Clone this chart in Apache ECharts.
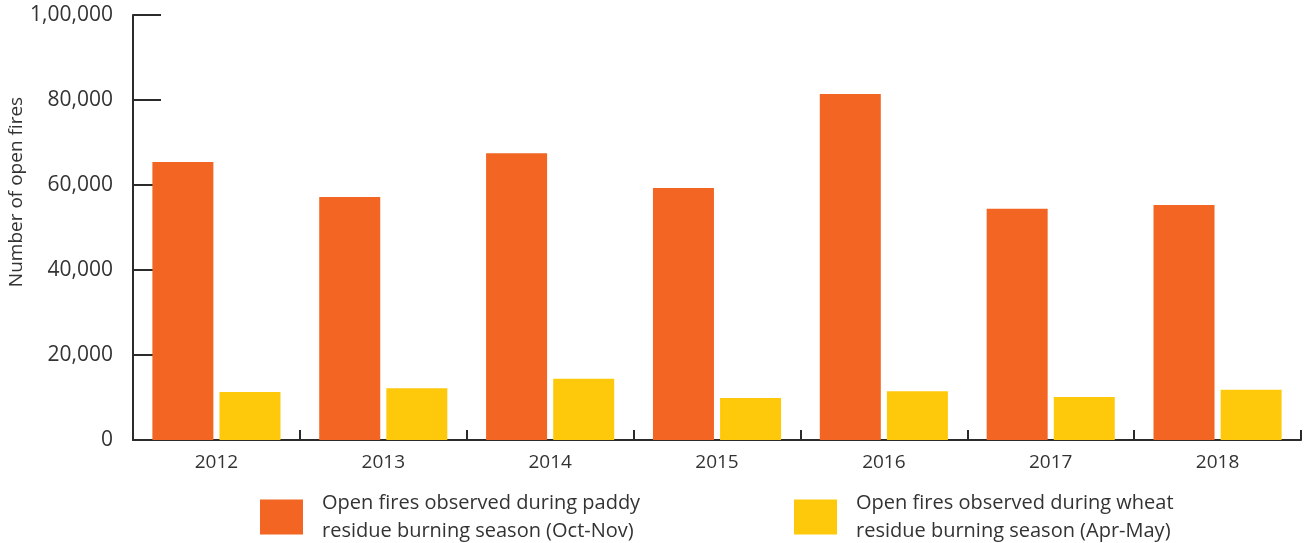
<!DOCTYPE html>
<html>
<head>
<meta charset="utf-8">
<script src="https://cdn.jsdelivr.net/npm/echarts@6/dist/echarts.min.js"></script>
<style>
  html, body { margin: 0; padding: 0; background: #fff; }
  #chart { width: 1307px; height: 543px; }
</style>
</head>
<body>
<div id="chart"></div>
<script>
const years = ['2012', '2013', '2014', '2015', '2016', '2017', '2018']
const paddyFires = [65400, 57200, 67500, 59300, 81400, 54400, 55300]
const wheatFires = [11300, 12200, 14400, 9900, 11500, 10100, 11800]
const paddyName = 'Open fires observed during paddy\nresidue burning season (Oct-Nov)'
const wheatName = 'Open fires observed during wheat\nresidue burning season (Apr-May)'

const font = 'Open Sans'
const textColor = '#333'
const axisColor = '#2b2b2b'

function fmt(v) {
  return v === 100000 ? '1,00,000' : v.toLocaleString('en-US')
}

const legendBase = {
  top: 484,
  orient: 'horizontal',
  itemWidth: 43,
  itemHeight: 35,
  icon: 'rect',
  selectedMode: false,
  textStyle: {
    fontFamily: font,
    fontSize: 20,
    color: textColor,
    lineHeight: 28,
    padding: [0, 0, 0, 14]
  }
}

let option = {
  animation: false,
  grid: {
    left: 133,
    right: 6,
    top: 15,
    bottom: 103
  },
  legend: [
    Object.assign({}, legendBase, { left: 255, data: [paddyName] }),
    Object.assign({}, legendBase, { left: 789, data: [wheatName] })
  ],
  graphic: [{
    type: 'text',
    x: 7,
    y: 192,
    rotation: Math.PI / 2,
    style: {
      text: 'Number of open fires',
      fontFamily: font,
      fontSize: 19,
      fill: textColor,
      align: 'center',
      verticalAlign: 'top'
    }
  }],
  xAxis: {
    type: 'category',
    data: years,
    axisLine: { lineStyle: { color: axisColor, width: 2 } },
    axisTick: {
      show: true,
      inside: true,
      length: 10,
      lineStyle: { color: axisColor, width: 2 }
    },
    axisLabel: {
      fontFamily: font,
      fontSize: 19,
      color: textColor,
      margin: 13
    }
  },
  yAxis: {
    type: 'value',
    min: 0,
    max: 100000,
    interval: 20000,
    axisLine: { show: true, lineStyle: { color: axisColor, width: 2 } },
    axisTick: {
      show: true,
      inside: true,
      length: 28,
      lineStyle: { color: axisColor, width: 2 }
    },
    splitLine: { show: false },
    axisLabel: {
      fontFamily: font,
      fontSize: 21,
      color: textColor,
      margin: 20,
      formatter: fmt
    }
  },
  series: [
    {
      name: paddyName,
      type: 'bar',
      data: paddyFires,
      barWidth: 61,
      barGap: '10%',
      itemStyle: { color: '#f26522' }
    },
    {
      name: wheatName,
      type: 'bar',
      data: wheatFires,
      barWidth: 61,
      barGap: '10%',
      itemStyle: { color: '#ffc90b' }
    }
  ]
}

let myChart = echarts.init(document.getElementById('chart'))
myChart.setOption(option)
</script>
</body>
</html>
